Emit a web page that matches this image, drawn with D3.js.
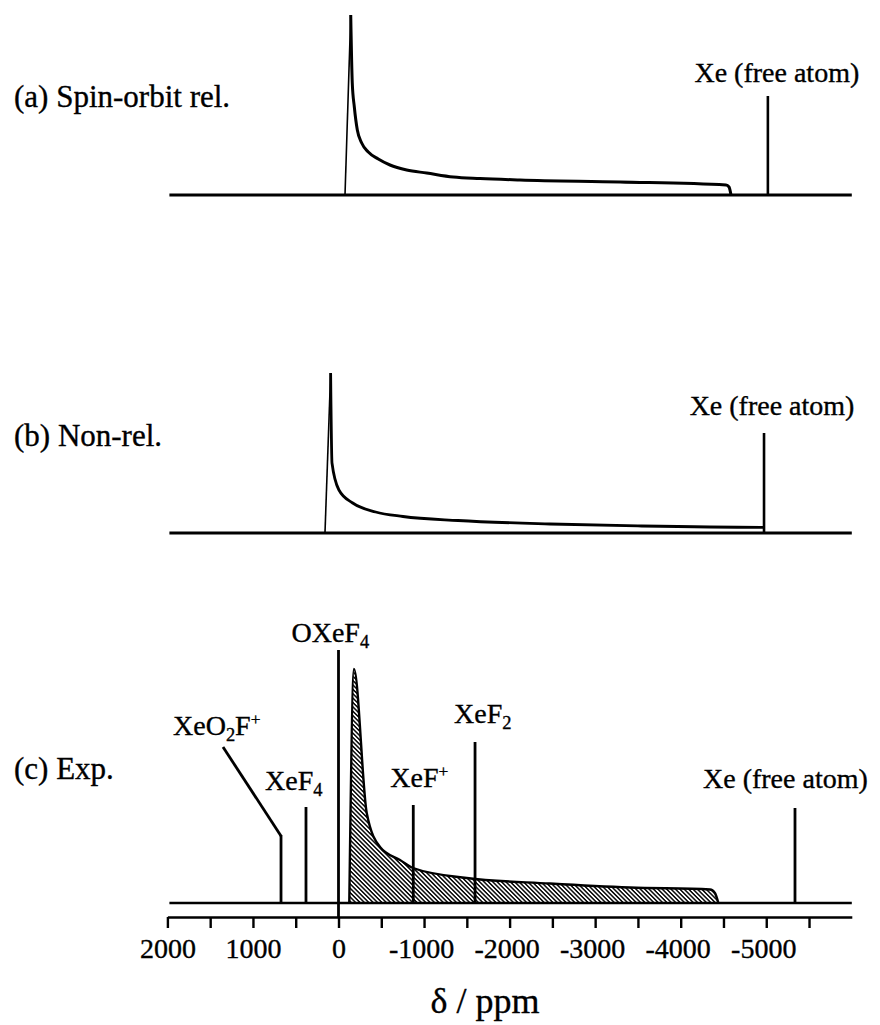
<!DOCTYPE html>
<html><head><meta charset="utf-8">
<script src="https://cdn.jsdelivr.net/npm/d3@7"></script>
<style>
body{margin:0;background:#fff}
text{font-family:"Liberation Serif","Times New Roman",serif;fill:#000;stroke:#000;stroke-width:0.35px}
</style>
</head><body>
<svg id="chart" width="880" height="1025"></svg>
<script>
// ---------- data ----------
const panelLabels = ["(a) Spin-orbit rel.", "(b) Non-rel.", "(c) Exp."];
const freeAtomLabel = "Xe (free atom)";

// (a) spin-orbit relativistic powder pattern (ppm, relative intensity)
const soShift = [-76, -143, -161, -185, -220, -271, -348, -465, -602, -797, -1031, -1342, -1654, -2122, -3291, -4530, -4565, -4588];
const soIntensity = [0, 1.80, 1.12, 0.88, 0.65, 0.52, 0.43, 0.36, 0.30, 0.25, 0.22, 0.18, 0.165, 0.15, 0.13, 0.10, 0.08, 0];
const soFreeAtom = [-5019, 0.99];

// (b) non-relativistic powder pattern
const nrShift = [158, 92, 76, -5, -166, -434, -754, -1397, -2472, -3543, -4939, -4974];
const nrIntensity = [0, 1.60, 0.70, 0.43, 0.30, 0.21, 0.165, 0.125, 0.09, 0.07, 0.057, 0.057];
const nrFreeAtom = [-4974, 1.0];

// (c) experimental powder pattern (hatched)
const expShift = [-126, -181, -330, -485, -719, -871, -1499, -2472, -3407, -4343, -4400, -4440];
const expIntensity = [0, 2.34, 0.90, 0.56, 0.43, 0.35, 0.25, 0.195, 0.155, 0.135, 0.10, 0];

// (c) experimental lines of reference compounds
const expLineNames = ["XeO_2F^+", "XeF_4", "OXeF_4", "XeF^+", "XeF_2", "Xe (free atom)"];
const expLineShift = [672, 380, 0, -874, -1596, -5336];
const expLineIntensity = [0.68, 0.96, 2.53, 0.98, 1.61, 0.95];

// axis
const xTickValues = [2000, 1500, 1000, 500, 0, -500, -1000, -1500, -2000, -2500, -3000, -3500, -4000, -4500, -5000, -5500];
const xTickLabels = [2000, 1000, 0, -1000, -2000, -3000, -4000, -5000];
const xTitle = "δ / ppm";

// ---------- layout ----------
const svg = d3.select("#chart");
const x = d3.scaleLinear().domain([2000, -6000]).range([167.4, 851.8]);
const baseA = 195, baseB = 533, baseC = 903, axisY = 917;
const yA = d3.scaleLinear().domain([0, 1]).range([baseA, baseA - 100]);
const yB = d3.scaleLinear().domain([0, 1]).range([baseB, baseB - 100]);
const yC = d3.scaleLinear().domain([0, 1]).range([baseC, baseC - 100]);

// hatch pattern
const defs = svg.append("defs");
const pat = defs.append("pattern").attr("id", "hatch").attr("patternUnits", "userSpaceOnUse")
  .attr("width", 3.1).attr("height", 10).attr("patternTransform", "rotate(-45)");
pat.append("line").attr("x1", 0.8).attr("x2", 0.8).attr("y1", 0).attr("y2", 10)
  .attr("stroke", "#000").attr("stroke-width", 1.45);

function formula(sel, str, size) {
  const parts = str.match(/(_.|\^.|[^_^]+)/g);
  let cur = 0;
  parts.forEach(p => {
    let target = 0, txt = p, fs = null;
    if (p[0] === "_") { target = 0.22 * size; txt = p.slice(1); fs = size * 0.66; }
    else if (p[0] === "^") { target = -0.36 * size; txt = p.slice(1); fs = size * 0.62; }
    const t = sel.append("tspan").attr("dy", target - cur).text(txt);
    if (fs) t.attr("font-size", fs);
    cur = target;
  });
}

const lineGen = (xs, ys, yScale) => d3.line().curve(d3.curveMonotoneX)
  .x(i => x(xs[i])).y(i => yScale(ys[i]));

function drawPowder(xs, ys, yScale, thick) {
  const idx = d3.range(xs.length);
  svg.append("path").attr("d", lineGen(xs, ys, yScale)(idx.slice(0, 2)))
    .attr("fill", "none").attr("stroke", "#000").attr("stroke-width", 1.6);
  svg.append("path").attr("d", lineGen(xs, ys, yScale)(idx.slice(1)))
    .attr("fill", "none").attr("stroke", "#000").attr("stroke-width", thick)
    .attr("stroke-linejoin", "round");
}

function baseline(yPos, w) {
  svg.append("line").attr("x1", x(2000) + 2).attr("x2", x(-6000)).attr("y1", yPos).attr("y2", yPos)
    .attr("stroke", "#000").attr("stroke-width", w);
}

function stick(v, h, yScale, w, yBottom) {
  svg.append("line").attr("x1", x(v)).attr("x2", x(v))
    .attr("y1", yBottom !== undefined ? yBottom : yScale(0)).attr("y2", yScale(h))
    .attr("stroke", "#000").attr("stroke-width", w);
}

// ---------- panel (a) ----------
baseline(baseA, 3.2);
drawPowder(soShift, soIntensity, yA, 3);
stick(soFreeAtom[0], soFreeAtom[1], yA, 2.6);
svg.append("text").attr("x", x(soFreeAtom[0]) + 9).attr("y", yA(soFreeAtom[1]) - 14)
  .attr("text-anchor", "middle").attr("font-size", 28).text(freeAtomLabel);
svg.append("text").attr("x", 14).attr("y", 107).attr("font-size", 31).text(panelLabels[0]);

// ---------- panel (b) ----------
baseline(baseB, 3.2);
drawPowder(nrShift, nrIntensity, yB, 2.8);
stick(nrFreeAtom[0], nrFreeAtom[1], yB, 2.6);
svg.append("text").attr("x", x(nrFreeAtom[0]) + 8).attr("y", yB(nrFreeAtom[1]) - 18)
  .attr("text-anchor", "middle").attr("font-size", 28).text(freeAtomLabel);
svg.append("text").attr("x", 14).attr("y", 446).attr("font-size", 31).text(panelLabels[1]);

// ---------- panel (c) ----------
const idxC = d3.range(expShift.length);
const area = d3.area().curve(d3.curveMonotoneX)
  .x(i => x(expShift[i])).y0(baseC).y1(i => yC(expIntensity[i]));
svg.append("path").attr("d", area(idxC)).attr("fill", "url(#hatch)").attr("stroke", "none");
svg.append("path").attr("d", lineGen(expShift, expIntensity, yC)(idxC))
  .attr("fill", "none").attr("stroke", "#000").attr("stroke-width", 2.4).attr("stroke-linejoin", "round");
baseline(baseC, 2.4);

// label offsets (px) relative to the top of each line: [dx to text start, dy to baseline]
const labelOffsets = {
  "XeO_2F^+": [-108, -100],
  "XeF_4": [-41, -17],
  "OXeF_4": [-47, -8],
  "XeF^+": [-23, -18],
  "XeF_2": [-21, -19],
  "Xe (free atom)": [-92, -20]
};
expLineNames.forEach((name, i) => {
  const v = expLineShift[i], h = expLineIntensity[i];
  const bottom = name === "OXeF_4" ? axisY : undefined;
  stick(v, h, yC, 2.8, bottom);
  const tx = x(v), ty = yC(h);
  if (name === "XeO_2F^+") {
    svg.append("line").attr("x1", tx).attr("y1", ty + 1).attr("x2", tx - 58).attr("y2", ty - 88)
      .attr("stroke", "#000").attr("stroke-width", 2.8);
  }
  const off = labelOffsets[name];
  const t = svg.append("text").attr("x", tx + off[0]).attr("y", ty + off[1]).attr("font-size", 28);
  formula(t, name, 28);
});
svg.append("text").attr("x", 14).attr("y", 779).attr("font-size", 31).text(panelLabels[2]);

// ---------- axis ----------
const axis = d3.axisBottom(x).tickValues(xTickValues).tickSize(11).tickSizeOuter(0).tickPadding(10)
  .tickFormat(d => xTickLabels.includes(d) ? String(d) : "");
const gAxis = svg.append("g").attr("transform", `translate(0,${axisY})`).call(axis);
gAxis.select(".domain").attr("stroke", "#000").attr("stroke-width", 2.6);
gAxis.selectAll(".tick line").attr("stroke", "#000").attr("stroke-width", 2.4);
gAxis.selectAll(".tick text").attr("font-family", '"Liberation Serif","Times New Roman",serif')
  .attr("font-size", 28).attr("fill", "#000").attr("dx", d => d < 0 ? -3 : 0);

svg.append("text").attr("x", 485).attr("y", 1013).attr("text-anchor", "middle")
  .attr("font-size", 36).text(xTitle);
</script>
</body></html>
